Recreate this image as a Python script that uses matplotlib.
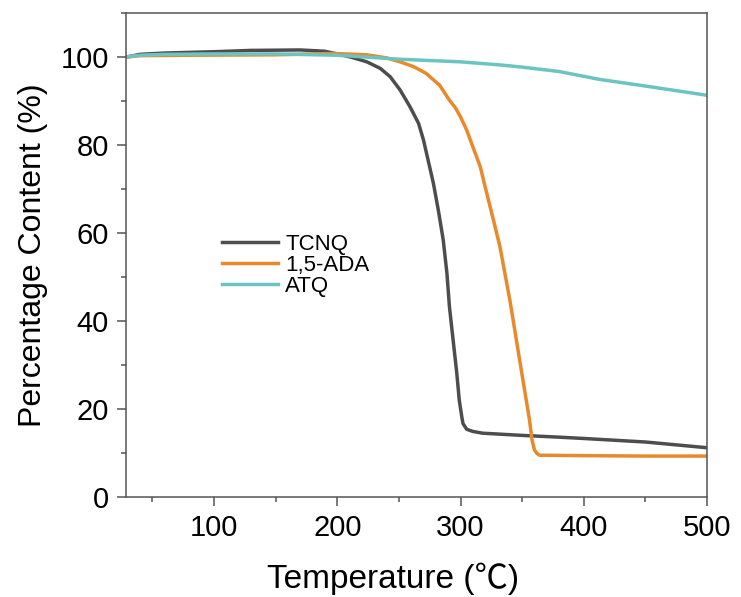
import numpy as np
import matplotlib
matplotlib.use('Agg')
import matplotlib.pyplot as plt
from matplotlib.ticker import MultipleLocator

plt.rcParams['font.family'] = ['Liberation Sans', 'Noto Sans CJK SC', 'DejaVu Sans']

# TGA curves (temperature in C, weight in %)
tcnq_T = [29, 40, 60, 100, 130, 170, 190, 200, 212, 224, 235, 243, 251, 259,
          266, 270, 278, 282, 286, 289, 291, 294, 297, 299, 301, 302, 305,
          310, 318, 350, 380, 400, 450, 500]
tcnq_w = [100.0, 100.6, 100.9, 101.2, 101.5, 101.6, 101.3, 100.7, 99.9, 98.9,
          97.4, 95.5, 92.5, 88.7, 84.9, 81.1, 71.3, 65.2, 58.4, 50.8, 43.3,
          35.7, 28.1, 22.0, 18.3, 16.7, 15.4, 14.9, 14.5, 14.0, 13.6, 13.3,
          12.5, 11.2]

ada_T = [29, 40, 80, 150, 197, 224, 240, 251, 262, 272, 283, 291, 296, 300,
         305, 310, 316, 320, 324, 328, 332, 340, 344, 348, 352, 356, 358, 360,
         362, 364, 400, 450, 500]
ada_w = [100.0, 100.3, 100.4, 100.5, 100.8, 100.5, 99.8, 98.9, 97.8, 96.3,
         93.6, 90.2, 88.4, 86.4, 83.4, 79.6, 75.1, 70.5, 66.0, 61.5, 56.9,
         44.8, 38.0, 31.1, 24.3, 17.5, 13.0, 10.7, 9.9, 9.5, 9.4, 9.3, 9.3]

atq_T = [29, 40, 60, 100, 150, 200, 250, 300, 332, 350, 380, 413, 450, 500]
atq_w = [100.0, 100.4, 100.6, 100.7, 100.7, 100.4, 99.5, 98.9, 98.2, 97.7,
         96.7, 94.9, 93.4, 91.3]

labels = ['TCNQ', '1,5-ADA', 'ATQ']
colors = ['#4d4d4d', '#e8892b', '#6cc4c2']

fig = plt.figure(figsize=(7.41, 5.97), dpi=100)
ax = fig.add_axes([126 / 741, 1 - 497 / 597, (707 - 126) / 741, (497 - 13) / 597])

for T, w, lab, c in zip([tcnq_T, ada_T, atq_T], [tcnq_w, ada_w, atq_w], labels, colors):
    ax.plot(T, w, color=c, lw=2.5, label=lab, solid_joinstyle='round')

ax.set_xlim(28.6, 500)
ax.set_ylim(0, 110)
ax.xaxis.set_major_locator(MultipleLocator(100))
ax.xaxis.set_minor_locator(MultipleLocator(50))
ax.yaxis.set_major_locator(MultipleLocator(20))
ax.yaxis.set_minor_locator(MultipleLocator(10))

spine_c = '#555555'
for s in ax.spines.values():
    s.set_color(spine_c)
    s.set_linewidth(1.1)
ax.tick_params(which='major', direction='out', length=6.5, width=1.1,
               color=spine_c, labelsize=21, pad=6)
ax.tick_params(which='minor', direction='out', length=3.5, width=1.1, color=spine_c)

ax.set_xlabel('Temperature (℃)', fontsize=24)
ax.xaxis.set_label_coords(0.46, -0.135)
ax.set_ylabel('Percentage Content (%)', fontsize=23, labelpad=9)

ax.legend(loc='upper left', bbox_to_anchor=(222 / 741, 1 - 234 / 597),
          bbox_transform=fig.transFigure, frameon=False, fontsize=16,
          handlelength=2.5, handletextpad=0.35, labelspacing=0.0,
          borderpad=0, borderaxespad=0)

fig.savefig('out.png', dpi=100)
